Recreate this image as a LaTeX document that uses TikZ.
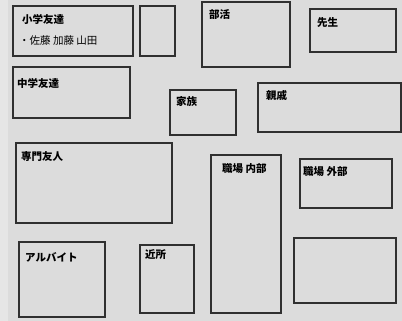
\documentclass[tikz,border=0pt]{standalone}
\usepackage{fontspec}
\newfontfamily\jp{Noto Sans CJK JP}
\definecolor{bg}{HTML}{DCDCDC}
\definecolor{strip}{HTML}{E6E6E6}
\definecolor{edge}{HTML}{303030}
\tikzset{
  box/.style={draw=edge, line width=1.1pt},
  lbl/.style={anchor=west, inner sep=0pt, font=\jp\bfseries\fontsize{10.5}{12}\selectfont, text=black},
  sublbl/.style={anchor=west, inner sep=0pt, font=\jp\fontsize{10.5}{12}\selectfont, text=black}
}
\begin{document}
\begin{tikzpicture}[x=1pt,y=-1pt]
\useasboundingbox (0,0) rectangle (402,321);
\fill[bg] (0,0) rectangle (402,321);
\fill[strip] (0,0) rectangle (8,321);
% boxes
\draw[box] (13,6) rectangle (133,56);
\draw[box] (140,6) rectangle (175,56);
\draw[box] (13,67) rectangle (130,118);
\draw[box] (170,90) rectangle (236,135);
\draw[box] (202,2) rectangle (290,67);
\draw[box] (310,9) rectangle (396,52);
\draw[box] (258,83) rectangle (401,132);
\draw[box] (16,143) rectangle (172,223);
\draw[box] (19,242) rectangle (105,317);
\draw[box] (140,245) rectangle (194,313);
\draw[box] (211,155) rectangle (281,313);
\draw[box] (300,159) rectangle (392,208);
\draw[box] (294,238) rectangle (396,303);
% labels
\node[lbl] (t1) at (22,19) {小学友達};
\node[sublbl] (t1b) at (19,41) {・佐藤 加藤 山田};
\node[lbl] (t2) at (17,83) {中学友達};
\node[lbl] (t3) at (176,102) {家族};
\node[lbl] (t4) at (209,15) {部活};
\node[lbl] (t5) at (317,23) {先生};
\node[lbl] (t6) at (266,95) {親戚};
\node[lbl] (t7) at (21,157) {専門友人};
\node[lbl] (t8) at (25,257) {アルバイト};
\node[lbl] (t9) at (145,255) {近所};
\node[lbl] (t10) at (222,169) {職場 内部};
\node[lbl] (t11) at (303,172) {職場 外部};
\end{tikzpicture}
\end{document}
